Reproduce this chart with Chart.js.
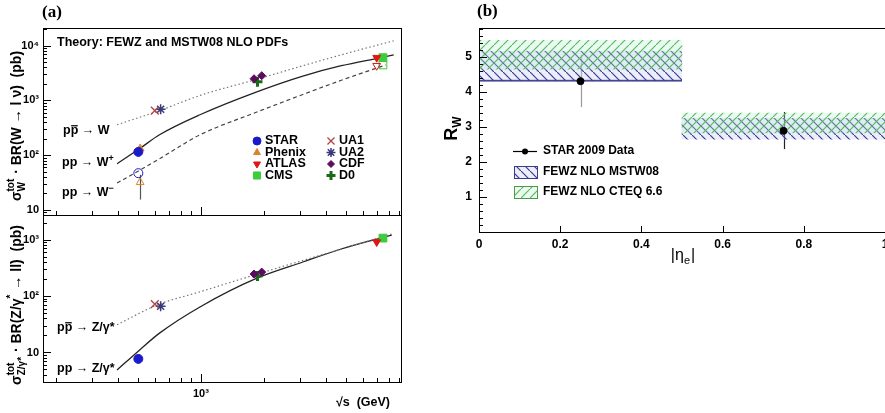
<!DOCTYPE html>
<html>
<head>
<meta charset="utf-8">
<script src="https://cdn.jsdelivr.net/npm/chart.js@4.4.1/dist/chart.umd.min.js"></script>
<style>
  html, body { margin: 0; padding: 0; background: #fff; width: 885px; height: 413px; overflow: hidden; }
  canvas { position: absolute; }
</style>
</head>
<body>
<canvas id="cW" width="420" height="230" style="left:0;top:0"></canvas>
<canvas id="cZ" width="420" height="413" style="left:0;top:0"></canvas>
<canvas id="cR" width="470" height="413" style="left:440px;top:0"></canvas>
<script>
const FONT = '"Liberation Sans", Arial, Helvetica, sans-serif';
Chart.defaults.font.family = FONT;
Chart.defaults.color = '#000';

// ---- panel (a), top: W cross sections (sqrt(s) in GeV, sigma*BR in pb) ----
const ppbarW_s = [395, 630, 1000, 1870, 3090, 4730, 8450];
const ppbarW   = [360, 650, 1250, 2450, 4300, 6800, 12300];
const ppWplus_s = [395, 506, 632, 989, 1870, 3090, 4730, 7230, 8450];
const ppWplus   = [70, 131, 236, 548, 1450, 2785, 4300, 6000, 6800];
const ppWminus_s = [395, 484, 632, 800, 989, 1870, 3090, 4730, 7740];
const ppWminus   = [31, 48, 86, 149, 236, 620, 1285, 2334, 4430];

// ---- panel (a), bottom: Z/gamma* cross sections ----
const ppbarZ_s = [395, 620, 1000, 1870, 4000, 8270];
const ppbarZ   = [31, 70, 120, 245, 566, 1250];
const ppZ_s = [395, 506, 632, 989, 1870, 3090, 4730, 7230, 8270];
const ppZ   = [4.9, 11, 22, 64, 209, 400, 680, 1050, 1200];

// measurements
const star_s = [500], starWplus = [115], starWminus = [47], starZ = [7.7];
const phenix_s = [510], phenixWplus = [132], phenixWminus = [32];
const phenixWminusLo = [15.5], phenixWminusHi = [44];
const ua1_s = [600], ua1W = [650], ua1Z = [72];
const ua2_s = [640], ua2W = [690], ua2Z = [66];
const cdf_s = [1800, 1960], cdfW = [2490, 2830], cdfZ = [245, 265];
const d0_s = [1870], d0W = [2200], d0Z = [225];
const atlas_s = [7000], atlasWplus = [6040], atlasWminus = [4300], atlasZ = [904];
const cms_s = [7500], cmsWplus = [6040], cmsWminus = [4450], cmsZ = [1060];

// axis ticks
const sqrtsMajor = [1000, 10000];
const sqrtsMinor = [200, 300, 400, 500, 600, 700, 800, 900, 2000, 3000, 4000, 5000, 6000, 7000, 8000, 9000];
const sqrtsLabels = {1000: '10³'};
const sigMajor = [10, 100, 1000, 10000];
const sigLabels = {10: '10', 100: '10²', 1000: '10³', 10000: '10⁴'};

// ---- panel (b): W+/W- ratio vs |eta_e| ----
const etaBins = ['0-0.5', '0.5-1'];
const mstwLow = [4.3, 2.65], mstwHigh = [5.18, 3.25];
const cteqLow = [4.65, 2.83], cteqHigh = [5.48, 3.4];
const starEta = [0.25, 0.75];
const starRw = [4.31, 2.89];
const starRwLo = [3.57, 2.37], starRwHi = [5.06, 3.43];
const etaMajor = [0, 0.2, 0.4, 0.6, 0.8, 1];
const etaLabels = {0: '0', 0.2: '0.2', 0.4: '0.4', 0.6: '0.6', 0.8: '0.8', 1: '1'};
const rwMajor = [0, 1, 2, 3, 4, 5];
const rwLabels = {1: '1', 2: '2', 3: '3', 4: '4', 5: '5'};

function minorsLog(lo, hi) {
  const out = [];
  for (let d = 1; d <= 10000; d *= 10)
    for (let k = 2; k <= 9; k++) if (k * d > lo && k * d < hi) out.push(k * d);
  return out;
}
function steps(lo, hi, st) {
  const out = [];
  for (let v = lo; v <= hi + 1e-9; v += st) out.push(Math.round(v * 100) / 100);
  return out;
}

const mk = {
  STAR:   {style: 'circle',   r: 4.5, c: '#1a1acc', bw: 1,   rot: 0},
  Phenix: {style: 'triangle', r: 4.5, c: '#d8842e', bw: 1,   rot: 0},
  ATLAS:  {style: 'triangle', r: 4.5, c: '#e01515', bw: 1,   rot: 180},
  CMS:    {style: 'rect',     r: 5.5, c: '#3ccc3c', bw: 1,   rot: 0},
  UA1:    {style: 'crossRot', r: 5.5, c: '#b04545', bw: 1.3, rot: 0},
  UA2:    {style: 'star',     r: 5,   c: '#3a3a7a', bw: 1.5, rot: 0},
  CDF:    {style: 'rectRot',  r: 4,   c: '#5e0a5e', bw: 1,   rot: 0},
  D0:     {style: 'cross',    r: 5,   c: '#186a18', bw: 3,   rot: 0}
};

function curve(xs, ys, color, dash, w) {
  return {
    data: xs.map((x, i) => ({x: x, y: ys[i]})),
    borderColor: color, borderWidth: w || 1.2, borderDash: dash,
    pointRadius: 0, fill: false, cubicInterpolationMode: 'monotone', order: 2
  };
}
function pts(name, xs, ys, open) {
  const m = mk[name];
  return {
    data: xs.map((x, i) => ({x: x, y: ys[i]})),
    showLine: false, pointStyle: m.style, pointRadius: m.r, pointRotation: m.rot,
    pointBackgroundColor: open ? 'rgba(255,255,255,0)' : m.c,
    pointBorderColor: m.c, pointBorderWidth: m.bw, order: 0
  };
}

// text with sub/superscripts and optional overline
function drawRich(ctx, parts, x, y, size, rot, align, weight) {
  weight = weight || 'bold';
  const big = weight + ' ' + size + 'px ' + FONT;
  const small = weight + ' ' + Math.round(size * 0.68) + 'px ' + FONT;
  ctx.save();
  ctx.translate(x, y);
  ctx.rotate(rot || 0);
  ctx.textBaseline = 'middle';
  ctx.textAlign = 'left';
  ctx.fillStyle = '#000';
  ctx.strokeStyle = '#000';
  const widths = parts.map(p => {
    if (p.t !== undefined) { ctx.font = big; return ctx.measureText(p.t).width; }
    ctx.font = small;
    return Math.max(p.sup ? ctx.measureText(p.sup).width : 0, p.sub ? ctx.measureText(p.sub).width : 0) + 1;
  });
  const total = widths.reduce((a, b) => a + b, 0);
  let cx = align === 'left' ? 0 : align === 'right' ? -total : -total / 2;
  parts.forEach((p, i) => {
    if (p.t !== undefined) {
      ctx.font = big;
      ctx.fillText(p.t, cx, 0);
      if (p.over) {
        ctx.lineWidth = size / 10;
        ctx.beginPath();
        ctx.moveTo(cx + 0.5, -size * 0.42);
        ctx.lineTo(cx + widths[i] - 0.5, -size * 0.42);
        ctx.stroke();
      }
    } else {
      ctx.font = small;
      if (p.sup) ctx.fillText(p.sup, cx, -size * 0.38);
      if (p.sub) ctx.fillText(p.sub, cx, size * 0.34);
    }
    cx += widths[i];
  });
  ctx.restore();
}

// ROOT-like frame with inward ticks, placed through the chart's scales
function rootFrame(ax) {
  return {
    id: 'rootFrame',
    afterDraw(chart) {
      const ctx = chart.ctx, a = chart.chartArea;
      ctx.save();
      ctx.strokeStyle = '#000';
      ctx.lineWidth = 1;
      ctx.strokeRect(Math.round(a.left) + 0.5, Math.round(a.top) + 0.5,
                     Math.round(a.right - a.left), Math.round(a.bottom - a.top));
      const sx = chart.scales[ax.xId || 'x'], sy = chart.scales.y;
      ctx.beginPath();
      [[ax.xMajor, ax.xLen[0]], [ax.xMinor, ax.xLen[1]]].forEach(([vals, len]) => {
        (vals || []).forEach(v => {
          const px = Math.round(sx.getPixelForValue(v)) + 0.5;
          if (px < a.left || px > a.right) return;
          ctx.moveTo(px, a.bottom); ctx.lineTo(px, a.bottom - len);
        });
      });
      [[ax.yMajor, ax.yLen[0]], [ax.yMinor, ax.yLen[1]]].forEach(([vals, len]) => {
        (vals || []).forEach(v => {
          const py = Math.round(sy.getPixelForValue(v)) + 0.5;
          if (py < a.top || py > a.bottom) return;
          ctx.moveTo(a.left, py); ctx.lineTo(a.left + len, py);
        });
      });
      ctx.stroke();
      ctx.restore();
    }
  };
}

function errBars(list) {
  return {
    id: 'errBars',
    beforeDatasetsDraw(chart) {
      const ctx = chart.ctx, sx = chart.scales.x, sy = chart.scales.y;
      ctx.save();
      list.forEach(e => {
        ctx.strokeStyle = e.color;
        ctx.lineWidth = 1.2;
        e.xs.forEach((x, i) => {
          const px = Math.round(sx.getPixelForValue(x)) + 0.5;
          ctx.beginPath();
          ctx.moveTo(px, sy.getPixelForValue(e.lo[i]));
          ctx.lineTo(px, sy.getPixelForValue(e.hi[i]));
          ctx.stroke();
        });
      });
      ctx.restore();
    }
  };
}

function logY(min, max, width) {
  return {
    type: 'logarithmic', min: min, max: max,
    afterFit: s => { s.width = width; },
    afterBuildTicks: s => { s.ticks = sigMajor.filter(v => v >= min && v <= max).map(v => ({value: v})); },
    grid: {display: false, drawTicks: false},
    border: {display: false},
    ticks: {autoSkip: false, padding: 4, font: {size: 11, weight: 'bold'}, color: '#000',
            callback: v => sigLabels[v] || ''}
  };
}

const baseOpts = {
  responsive: false, animation: false, events: [],
  plugins: {legend: {display: false}, tooltip: {enabled: false}}
};

// ---------- W panel ----------
new Chart(document.getElementById('cW'), {
  type: 'line',
  data: {datasets: [
    pts('STAR', star_s, starWplus),
    pts('STAR', star_s, starWminus, true),
    pts('Phenix', phenix_s, phenixWplus),
    pts('Phenix', phenix_s, phenixWminus, true),
    pts('UA1', ua1_s, ua1W),
    pts('UA2', ua2_s, ua2W),
    pts('CDF', cdf_s, cdfW),
    pts('D0', d0_s, d0W),
    pts('ATLAS', atlas_s, atlasWplus),
    pts('CMS', cms_s, cmsWplus),
    pts('ATLAS', atlas_s, atlasWminus, true),
    pts('CMS', cms_s, cmsWminus, true),
    curve(ppbarW_s, ppbarW, '#777', [1.5, 2.5]),
    curve(ppWplus_s, ppWplus, '#222', [], 1.3),
    curve(ppWminus_s, ppWminus, '#444', [4, 3])
  ]},
  options: Object.assign({}, baseOpts, {
    layout: {padding: {left: 0, top: 28, right: 19, bottom: 15}},
    scales: {
      x: {type: 'logarithmic', min: 174, max: 9160, display: false},
      y: logY(8.1, 21000, 43)
    }
  }),
  plugins: [
    rootFrame({xMajor: sqrtsMajor, xMinor: sqrtsMinor, xLen: [8, 4],
               yMajor: sigMajor, yMinor: minorsLog(8.1, 21000), yLen: [8, 4]}),
    errBars([{xs: phenix_s, lo: phenixWminusLo, hi: phenixWminusHi, color: '#555'}]),
    {
      id: 'wText',
      afterDraw(chart) {
        const ctx = chart.ctx;
        ctx.save();
        ctx.fillStyle = '#000';
        ctx.textBaseline = 'middle';
        ctx.font = 'bold 17px "Liberation Serif", serif';
        ctx.fillText('(a)', 42, 13);
        ctx.font = 'bold 12.5px ' + FONT;
        ctx.fillText('Theory: FEWZ and MSTW08 NLO PDFs', 57, 43);
        ctx.restore();
        drawRich(ctx, [{t: 'p'}, {t: 'p', over: true}, {t: ' → W'}], 63, 131, 12.5, 0, 'left');
        drawRich(ctx, [{t: 'pp → W'}, {sup: '+'}], 62, 163, 12.5, 0, 'left');
        drawRich(ctx, [{t: 'pp → W'}, {sup: '−'}], 62, 193, 12.5, 0, 'left');
        drawRich(ctx, [{t: 'σ'}, {sup: 'tot', sub: 'W'}, {t: ' · BR(W → l ν)  (pb)'}], 17, 126, 14, -Math.PI / 2, 'center');
        // legend
        const rows = [['STAR', 'UA1'], ['Phenix', 'UA2'], ['ATLAS', 'CDF'], ['CMS', 'D0']];
        const ys = [141, 152.5, 164, 175.5], xs = [257, 331];
        rows.forEach((row, r) => row.forEach((name, c) => {
          const m = mk[name];
          ctx.save();
          ctx.fillStyle = m.c; ctx.strokeStyle = m.c; ctx.lineWidth = m.bw;
          Chart.helpers.drawPoint(ctx, {pointStyle: m.style, radius: m.r - 0.5, rotation: m.rot, borderWidth: m.bw}, xs[c], ys[r]);
          ctx.restore();
          drawRich(ctx, [{t: name}], xs[c] + 8, ys[r], 12.5, 0, 'left');
        }));
      }
    }
  ]
});

// ---------- Z panel ----------
new Chart(document.getElementById('cZ'), {
  type: 'line',
  data: {datasets: [
    pts('STAR', star_s, starZ),
    pts('UA1', ua1_s, ua1Z),
    pts('UA2', ua2_s, ua2Z),
    pts('CDF', cdf_s, cdfZ),
    pts('D0', d0_s, d0Z),
    pts('ATLAS', atlas_s, atlasZ),
    pts('CMS', cms_s, cmsZ),
    curve(ppbarZ_s, ppbarZ, '#777', [1.5, 2.5]),
    curve(ppZ_s, ppZ, '#222', [], 1.3)
  ]},
  options: Object.assign({}, baseOpts, {
    layout: {padding: {left: 0, top: 215, right: 19, bottom: 0}},
    scales: {
      x: {
        type: 'logarithmic', min: 174, max: 9160,
        afterFit: s => { s.height = 31; },
        afterBuildTicks: s => { s.ticks = sqrtsMajor.filter(v => v < 9160).map(v => ({value: v})); },
        grid: {display: false, drawTicks: false},
        border: {display: false},
        ticks: {autoSkip: false, maxRotation: 0, padding: 5, font: {size: 11, weight: 'bold'}, color: '#000',
                callback: v => sqrtsLabels[v] || ''}
      },
      y: logY(3.0, 2720, 43)
    }
  }),
  plugins: [
    rootFrame({xMajor: sqrtsMajor, xMinor: sqrtsMinor, xLen: [8, 4],
               yMajor: sigMajor, yMinor: minorsLog(3.0, 2720), yLen: [8, 4]}),
    {
      id: 'zText',
      afterDraw(chart) {
        const ctx = chart.ctx;
        drawRich(ctx, [{t: 'p'}, {t: 'p', over: true}, {t: ' → Z/γ*'}], 57, 328, 12.5, 0, 'left');
        drawRich(ctx, [{t: 'pp → Z/γ*'}], 57, 369, 12.5, 0, 'left');
        drawRich(ctx, [{t: 'σ'}, {sup: 'tot', sub: 'Z/γ*'}, {t: ' · BR(Z/γ'}, {sup: '*'}, {t: ' → ll)  (pb)'}],
                 17, 305, 14, -Math.PI / 2, 'center');
        drawRich(ctx, [{t: '√s  (GeV)'}], 390, 403, 12.5, 0, 'right');
      }
    }
  ]
});

// ---------- R_W panel ----------
function hatch(color, dir, bg) {
  const n = 9;
  const c = document.createElement('canvas');
  c.width = n; c.height = n;
  const g = c.getContext('2d');
  g.fillStyle = bg; g.fillRect(0, 0, n, n);
  g.strokeStyle = color; g.lineWidth = 1.2;
  g.beginPath();
  if (dir > 0) {
    g.moveTo(-1, n + 1); g.lineTo(n + 1, -1);
  } else {
    g.moveTo(-1, -1); g.lineTo(n + 1, n + 1);
  }
  g.stroke();
  return g.createPattern(c, 'repeat');
}
const mstwFill = hatch('#3b3b8f', -1, 'rgba(200,205,245,0.35)');
const cteqFill = hatch('#58bc58', 1, 'rgba(185,240,215,0.30)');

new Chart(document.getElementById('cR'), {
  type: 'bar',
  data: {
    labels: etaBins,
    datasets: [
      {type: 'scatter', xAxisID: 'x', data: starEta.map((x, i) => ({x: x, y: starRw[i]})),
       pointRadius: 3.5, pointBackgroundColor: '#000', pointBorderColor: '#000', order: 0},
      {xAxisID: 'xb', data: cteqLow.map((v, i) => [v, cteqHigh[i]]), backgroundColor: cteqFill,
       borderWidth: 0, grouped: false, barPercentage: 1, categoryPercentage: 1, order: 1},
      {xAxisID: 'xb', data: mstwLow.map((v, i) => [v, mstwHigh[i]]), backgroundColor: mstwFill,
       borderColor: '#3b3b8f', borderSkipped: false,
       borderWidth: ctx => ctx.dataIndex === 0 ? {top: 0, left: 0, right: 0, bottom: 1.5} : 0,
       grouped: false, barPercentage: 1, categoryPercentage: 1, order: 2}
    ]
  },
  options: Object.assign({}, baseOpts, {
    layout: {padding: {left: 0, top: 28, right: 25, bottom: 161}},
    scales: {
      xb: {type: 'category', display: false, offset: true},
      x: {
        type: 'linear', min: 0, max: 1, offset: false,
        afterFit: s => { s.height = 20; },
        afterBuildTicks: s => { s.ticks = etaMajor.map(v => ({value: v})); },
        grid: {display: false, drawTicks: false, offset: false},
        border: {display: false},
        ticks: {autoSkip: false, maxRotation: 0, padding: 5, font: {size: 12, weight: 'bold'}, color: '#000',
                callback: v => etaLabels[Math.round(v * 10) / 10]}
      },
      y: {
        type: 'linear', min: 0, max: 5.83,
        afterFit: s => { s.width = 39; },
        afterBuildTicks: s => { s.ticks = rwMajor.map(v => ({value: v})); },
        grid: {display: false, drawTicks: false},
        border: {display: false},
        ticks: {autoSkip: false, padding: 7, font: {size: 12, weight: 'bold'}, color: '#000',
                callback: v => rwLabels[v] || ''}
      }
    }
  }),
  plugins: [
    rootFrame({xMajor: etaMajor, xMinor: [], xLen: [6, 3],
               yMajor: rwMajor, yMinor: steps(0, 5.8, 0.2), yLen: [8, 4]}),
    {
      id: 'rwErr',
      beforeDatasetsDraw(chart) {
        const ctx = chart.ctx, sx = chart.scales.x, sy = chart.scales.y;
        const cols = ['#999', '#222'];
        ctx.save();
        ctx.lineWidth = 1.2;
        starEta.forEach((x, i) => {
          const px = Math.round(sx.getPixelForValue(x)) + 0.5;
          ctx.strokeStyle = cols[i];
          ctx.beginPath();
          ctx.moveTo(px, sy.getPixelForValue(starRwLo[i]));
          ctx.lineTo(px, sy.getPixelForValue(starRwHi[i]));
          ctx.stroke();
        });
        ctx.restore();
      }
    },
    {
      id: 'rwText',
      afterDraw(chart) {
        const ctx = chart.ctx, o = 440;
        ctx.save();
        ctx.fillStyle = '#000';
        ctx.textBaseline = 'middle';
        ctx.font = 'bold 17px "Liberation Serif", serif';
        ctx.fillText('(b)', 477 - o, 12);
        ctx.restore();
        drawRich(ctx, [{t: 'R'}, {sub: 'W'}], 452 - o, 128, 18, -Math.PI / 2, 'center');
        drawRich(ctx, [{t: '|η'}, {sub: 'e'}, {t: '|'}], 683 - o, 256, 16, 0, 'center', 'normal');
        // legend
        ctx.save();
        ctx.strokeStyle = '#000'; ctx.lineWidth = 1.2;
        ctx.beginPath(); ctx.moveTo(513 - o, 151.5); ctx.lineTo(537 - o, 151.5); ctx.stroke();
        ctx.fillStyle = '#000';
        Chart.helpers.drawPoint(ctx, {pointStyle: 'circle', radius: 3, rotation: 0, borderWidth: 0}, 525 - o, 151.5);
        ctx.fillStyle = mstwFill; ctx.fillRect(514 - o, 166, 23, 12);
        ctx.strokeStyle = '#3b3b8f'; ctx.lineWidth = 1; ctx.strokeRect(514.5 - o, 166.5, 23, 12);
        ctx.fillStyle = cteqFill; ctx.fillRect(514 - o, 186, 23, 12);
        ctx.strokeStyle = '#4a9a4a'; ctx.strokeRect(514.5 - o, 186.5, 23, 12);
        ctx.restore();
        drawRich(ctx, [{t: 'STAR 2009 Data'}], 543 - o, 151, 12, 0, 'left');
        drawRich(ctx, [{t: 'FEWZ NLO MSTW08'}], 543 - o, 172, 12, 0, 'left');
        drawRich(ctx, [{t: 'FEWZ NLO CTEQ 6.6'}], 543 - o, 192, 12, 0, 'left');
      }
    }
  ]
});
</script>
</body>
</html>
